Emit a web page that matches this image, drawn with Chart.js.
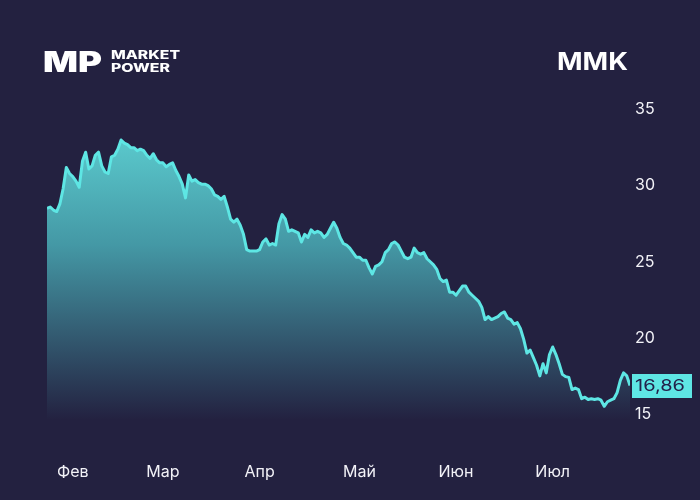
<!DOCTYPE html>
<html lang="ru">
<head>
<meta charset="utf-8">
<title>MMK</title>
<script src="https://cdn.jsdelivr.net/npm/chart.js@4.4.1/dist/chart.umd.min.js"></script>
<style>
  html, body { margin: 0; padding: 0; background: #232140; }
  #box { position: relative; width: 700px; height: 500px; }
</style>
</head>
<body>
<div id="box"><canvas id="mmkChart" width="700" height="500"></canvas></div>
<script>
// day of year of the first value, one value per day after it
const firstDay = 25;
const prices = [
  28.5, 28.6, 28.4, 28.3, 28.8, 29.8, 31.2, 30.8, 30.6, 30.3,
  29.9, 31.6, 32.2, 31.1, 31.3, 32.0, 32.2, 31.3, 30.9, 30.8,
  31.9, 32.0, 32.4, 33.0, 32.8, 32.7, 32.5, 32.5, 32.3, 32.4,
  32.3, 32.0, 31.8, 32.1, 31.7, 31.5, 31.5, 31.25, 31.4, 31.5,
  31.0, 30.6, 30.1, 29.2, 30.7, 30.3, 30.4, 30.2, 30.1, 30.1,
  30.0, 29.8, 29.4, 29.3, 29.1, 29.3, 28.6, 27.8, 27.6, 27.8,
  27.4, 26.8, 25.8, 25.7, 25.7, 25.7, 25.8, 26.3, 26.5, 26.1,
  26.2, 26.1, 27.5, 28.1, 27.8, 27.0, 27.1, 27.0, 26.9, 26.3,
  26.8, 26.6, 27.1, 26.9, 27.0, 26.9, 26.6, 26.8, 27.2, 27.6,
  27.2, 26.6, 26.2, 26.1, 25.9, 25.6, 25.3, 25.3, 25.1, 25.1,
  24.6, 24.2, 24.7, 24.8, 25.0, 25.6, 25.8, 26.2, 26.3, 26.1,
  25.7, 25.3, 25.2, 25.3, 25.9, 25.6, 25.5, 25.6, 25.2, 25.0,
  24.8, 24.5, 23.9, 23.7, 23.8, 23.0, 23.0, 22.8, 23.1, 23.4,
  23.4, 23.0, 22.8, 22.6, 22.4, 22.0, 21.2, 21.4, 21.2, 21.3,
  21.4, 21.6, 21.7, 21.3, 21.2, 20.9, 21.0, 20.6, 19.9, 19.0,
  19.2, 18.7, 18.2, 17.5, 18.3, 17.7, 18.9, 19.4, 18.9, 18.3,
  17.6, 17.45, 17.4, 16.6, 16.7, 16.6, 16.0, 16.1, 15.95, 16.0,
  15.95, 16.0, 15.9, 15.5, 15.8, 15.9, 16.0, 16.4, 17.2, 17.7,
  17.5, 16.86
];
const monthDays = [33, 61, 91, 122, 152, 182];
const monthLabels = ['Фев', 'Мар', 'Апр', 'Май', 'Июн', 'Июл'];
const priceTicks = [15, 20, 25, 30, 35];
const ticker = 'MMK';

const bg = '#232140';
const cyan = '#5ee6e4';

const points = prices.map((v, i) => ({ x: firstDay + i, y: v }));
const lastPrice = prices[prices.length - 1];

Chart.defaults.font.family = 'Inter, "Noto Sans", sans-serif';

// draws text stretched to a given width, from a left x and a baseline y
function wideText(c, text, x, y, w) {
  const k = w / c.measureText(text).width;
  c.save();
  c.translate(x, y);
  c.scale(k, 1);
  c.fillText(text, 0, 0);
  c.restore();
}

const decorations = {
  id: 'decorations',
  afterDraw(chart) {
    const c = chart.ctx;
    const area = chart.chartArea;
    c.save();
    c.fillStyle = '#ffffff';
    c.textBaseline = 'alphabetic';
    c.textAlign = 'left';

    c.font = '900 29px Inter';
    wideText(c, 'MP', 43, 72, 59);
    c.font = '800 11.5px Inter';
    wideText(c, 'MARKET', 111, 59, 69);
    wideText(c, 'POWER', 111, 72, 59);

    c.font = '700 24px Inter';
    wideText(c, ticker, 557, 70, 71);

    // last price tag
    const y = chart.scales.y.getPixelForValue(lastPrice);
    c.fillStyle = cyan;
    c.fillRect(area.right + 2, Math.round(y) - 12, 60, 24);
    c.fillStyle = '#23214a';
    c.font = '16px Inter';
    c.textBaseline = 'middle';
    wideText(c, lastPrice.toFixed(2).replace('.', ','), area.right + 5, y + 1, 50);
    c.restore();
  }
};

new Chart(document.getElementById('mmkChart'), {
  type: 'line',
  data: {
    datasets: [{
      data: points,
      borderColor: cyan,
      borderWidth: 3,
      borderJoinStyle: 'round',
      pointRadius: 0,
      tension: 0,
      fill: 'start',
      backgroundColor: (ctx) => {
        const area = ctx.chart.chartArea;
        if (!area) return 'rgba(94,230,228,0.5)';
        const g = ctx.chart.ctx.createLinearGradient(0, area.top, 0, area.bottom);
        g.addColorStop(0, 'rgb(98,218,218)');
        g.addColorStop(0.45, 'rgb(68,152,165)');
        g.addColorStop(1, bg);
        return g;
      }
    }]
  },
  options: {
    responsive: false,
    animation: false,
    layout: { padding: { top: 102, left: 47, right: 0, bottom: 0 } },
    plugins: {
      legend: { display: false },
      tooltip: { enabled: false }
    },
    scales: {
      x: {
        type: 'linear',
        min: firstDay,
        max: firstDay + prices.length - 1,
        grid: { display: false, drawTicks: false },
        border: { display: false },
        afterBuildTicks: (scale) => { scale.ticks = monthDays.map(d => ({ value: d })); },
        afterFit: (scale) => { scale.height = 80; },
        ticks: {
          color: '#f2f2f7',
          padding: 43,
          maxRotation: 0,
          autoSkip: false,
          font: { size: 16 },
          callback: (v) => monthLabels[monthDays.indexOf(v)]
        }
      },
      y: {
        position: 'right',
        min: 14.6,
        max: 35.5,
        grid: { display: false, drawTicks: false },
        border: { display: false },
        afterBuildTicks: (scale) => { scale.ticks = priceTicks.map(v => ({ value: v })); },
        afterFit: (scale) => { scale.width = 70; },
        ticks: {
          color: '#f2f2f7',
          padding: 5,
          font: { size: 16 }
        }
      }
    }
  },
  plugins: [decorations]
});
</script>
</body>
</html>
